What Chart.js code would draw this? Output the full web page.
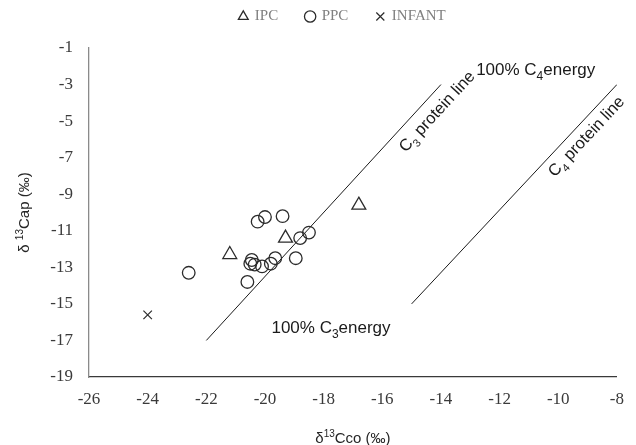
<!DOCTYPE html>
<html>
<head>
<meta charset="utf-8">
<script src="https://cdn.jsdelivr.net/npm/chart.js@4"></script>
<style>
  body { margin: 0; background: #fff; }
  #wrap { width: 636px; height: 445px; position: relative; }
</style>
</head>
<body>
<div id="wrap"><canvas id="myChart"></canvas></div>
<script>
// series values
const ipcX = [-21.2, -19.3, -16.8];
const ipcY = [-12.3, -11.4, -9.6];
const ppcX = [-22.6, -20.25, -20.0, -19.4, -18.5, -18.8, -18.95, -19.65, -19.8, -20.1, -20.35, -20.45, -20.5, -20.6];
const ppcY = [-13.3, -10.5, -10.25, -10.2, -11.1, -11.4, -12.5, -12.5, -12.8, -12.95, -12.85, -12.6, -12.8, -13.8];
const infantX = [-24.0];
const infantY = [-15.6];

// reference lines
const c3LineX = [-22, -14];
const c3LineY = [-17, -3];
const c4LineX = [-15, -8];
const c4LineY = [-15, -3];

// axis ranges
const xMin = -26, xMax = -8, xStep = 2;
const yMin = -19, yMax = -1, yStep = 2;

const seriesNames = ['IPC', 'PPC', 'INFANT'];

const SANS = "'Liberation Sans', Arial, sans-serif";
const SERIF = "'Liberation Serif', 'Times New Roman', serif";

const pts = (xs, ys) => xs.map((v, i) => ({ x: v, y: ys[i] }));

// draw a run of text pieces, some sub/superscript
function drawParts(ctx, parts, x, y, size) {
  let cx = x;
  parts.forEach(p => {
    const s = p.sub || p.sup ? Math.round(size * 0.68) : size;
    ctx.font = s + 'px ' + SANS;
    const dy = p.sub ? size * 0.3 : (p.sup ? -size * 0.38 : 0);
    ctx.fillText(p.t, cx, y + dy);
    cx += ctx.measureText(p.t).width;
  });
  return cx - x;
}
function partsWidth(ctx, parts, size) {
  let w = 0;
  parts.forEach(p => {
    const s = p.sub || p.sup ? Math.round(size * 0.68) : size;
    ctx.font = s + 'px ' + SANS;
    w += ctx.measureText(p.t).width;
  });
  return w;
}

const textPlugin = {
  id: 'texts',
  afterLayout(chart) {
    // legend sits higher and a bit right of centre in the original
    const lg = chart.legend;
    lg.left += 32; lg.right += 32;
    lg.top -= 14; lg.bottom -= 14;
  },
  afterDatasetsDraw(chart) {
    const { ctx, chartArea, scales: { x, y } } = chart;
    ctx.save();
    ctx.fillStyle = '#1a1a1a';
    ctx.textBaseline = 'alphabetic';
    ctx.textAlign = 'left';

    // flat labels
    drawParts(ctx, [{ t: '100% C' }, { t: '4', sub: true }, { t: 'energy' }],
      x.getPixelForValue(-12.8), y.getPixelForValue(-2.47), 17);
    drawParts(ctx, [{ t: '100% C' }, { t: '3', sub: true }, { t: 'energy' }],
      x.getPixelForValue(-19.78), y.getPixelForValue(-16.6), 17);

    // rotated labels along the protein lines
    const along = (lx, ly, ax, ay, parts) => {
      const x0 = x.getPixelForValue(lx[0]), y0 = y.getPixelForValue(ly[0]);
      const x1 = x.getPixelForValue(lx[1]), y1 = y.getPixelForValue(ly[1]);
      const ang = Math.atan2(y1 - y0, x1 - x0);
      ctx.save();
      ctx.translate(x.getPixelForValue(ax), y.getPixelForValue(ay));
      ctx.rotate(ang);
      drawParts(ctx, parts, 0, 0, 16.5);
      ctx.restore();
    };
    along(c3LineX, c3LineY, -15.2, -6.75, [{ t: 'C' }, { t: '3', sub: true }, { t: ' protein line' }]);
    along(c4LineX, c4LineY, -10.12, -8.1, [{ t: 'C' }, { t: '4', sub: true }, { t: ' protein line' }]);

    // axis titles
    ctx.fillStyle = '#262626';
    const xt = [{ t: 'δ' }, { t: '13', sup: true }, { t: 'Cco (‰)' }];
    const xw = partsWidth(ctx, xt, 15);
    drawParts(ctx, xt, (chartArea.left + chartArea.right) / 2 - xw / 2, 443, 15);

    const yt = [{ t: 'δ ' }, { t: '13', sup: true }, { t: 'Cap (‰)' }];
    const yw = partsWidth(ctx, yt, 15);
    ctx.save();
    ctx.translate(29, (chartArea.top + chartArea.bottom) / 2);
    ctx.rotate(-Math.PI / 2);
    drawParts(ctx, yt, -yw / 2, 0, 15);
    ctx.restore();

    ctx.restore();
  }
};

const markerColor = '#2b2b2b';

new Chart(document.getElementById('myChart'), {
  type: 'scatter',
  data: {
    datasets: [
      {
        label: seriesNames[0],
        data: pts(ipcX, ipcY),
        pointStyle: 'triangle',
        pointRadius: 8,
        pointHoverRadius: 8,
        borderColor: markerColor,
        backgroundColor: 'rgba(0,0,0,0)',
        borderWidth: 1.3
      },
      {
        label: seriesNames[1],
        data: pts(ppcX, ppcY),
        pointStyle: 'circle',
        pointRadius: 6.3,
        pointHoverRadius: 6.3,
        borderColor: markerColor,
        backgroundColor: 'rgba(0,0,0,0)',
        borderWidth: 1.3
      },
      {
        label: seriesNames[2],
        data: pts(infantX, infantY),
        pointStyle: 'crossRot',
        pointRadius: 6,
        pointHoverRadius: 6,
        borderColor: markerColor,
        backgroundColor: 'rgba(0,0,0,0)',
        borderWidth: 1.2
      },
      {
        label: 'c3line',
        data: pts(c3LineX, c3LineY),
        showLine: true,
        pointRadius: 0,
        borderColor: '#1a1a1a',
        borderWidth: 1
      },
      {
        label: 'c4line',
        data: pts(c4LineX, c4LineY),
        showLine: true,
        pointRadius: 0,
        borderColor: '#1a1a1a',
        borderWidth: 1
      }
    ]
  },
  options: {
    responsive: true,
    maintainAspectRatio: false,
    animation: false,
    layout: { padding: { top: -5, right: 15, bottom: 0, left: 0 } },
    plugins: {
      tooltip: { enabled: false },
      legend: {
        position: 'top',
        labels: {
          filter: item => item.datasetIndex < 3,
          usePointStyle: true,
          boxWidth: 8,
          boxHeight: 8,
          padding: 28,
          color: '#808080',
          font: { family: SERIF, size: 15 }
        }
      }
    },
    scales: {
      x: {
        type: 'linear',
        min: xMin,
        max: xMax,
        grid: { display: false, drawTicks: false },
        border: { display: true, color: '#3a3a3a', width: 1.3 },
        ticks: {
          stepSize: xStep,
          padding: 12,
          color: '#3a3a3a',
          font: { family: SERIF, size: 17 }
        },
        afterFit: s => { s.height = 68; }
      },
      y: {
        type: 'linear',
        min: yMin,
        max: yMax,
        grid: { display: false, drawTicks: false },
        border: { display: true, color: '#8a8a8a', width: 1.3 },
        ticks: {
          stepSize: yStep,
          padding: 16,
          color: '#3a3a3a',
          font: { family: SERIF, size: 17 }
        },
        afterFit: s => { s.width = 89; }
      }
    }
  },
  plugins: [textPlugin]
});
</script>
</body>
</html>
